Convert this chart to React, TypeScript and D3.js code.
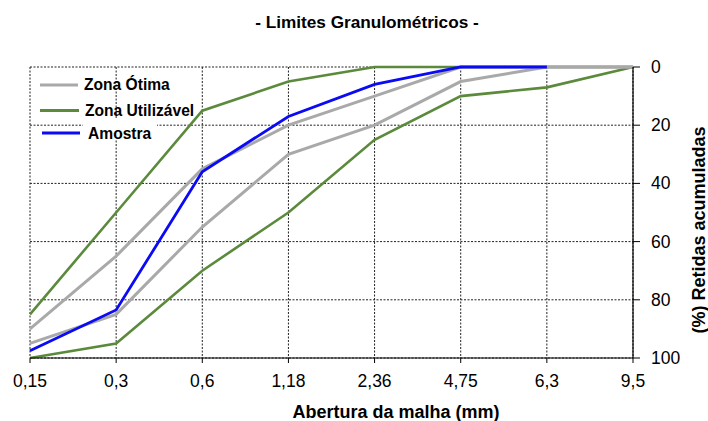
import React from "react";
import * as d3 from "d3";

const categories = ["0,15", "0,3", "0,6", "1,18", "2,36", "4,75", "6,3", "9,5"];
const otimaInferior = [90, 65, 35, 20, 10, 0, 0, 0];
const otimaSuperior = [95, 85, 55, 30, 20, 5, 0, 0];
const utilizavelInferior = [85, 50, 15, 5, 0, 0, 0, 0];
const utilizavelSuperior = [100, 95, 70, 50, 25, 10, 7, 0];
const amostra: (number | null)[] = [97.5, 83.5, 36, 17, 6, 0, 0, null];
const yTicks = [0, 20, 40, 60, 80, 100];

const GREEN = "#5b8a3c";
const GREY = "#a9a9a9";
const BLUE = "#0a0af5";
const FONT = "'Liberation Sans', Arial, sans-serif";

export default function App() {
  const W = 708, H = 421;
  const x = d3.scalePoint<string>().domain(categories).range([30, 633]);
  const y = d3.scaleLinear().domain([0, 100]).range([67, 358]);
  const line = d3
    .line<number | null>()
    .defined((d) => d !== null)
    .x((_, i) => x(categories[i]) as number)
    .y((d) => y(d as number));

  const series = [
    { data: utilizavelInferior, color: GREEN, w: 2.6 },
    { data: utilizavelSuperior, color: GREEN, w: 2.6 },
    { data: otimaInferior, color: GREY, w: 3 },
    { data: otimaSuperior, color: GREY, w: 3 },
    { data: amostra, color: BLUE, w: 2.8 },
  ];

  return (
    <svg width={W} height={H} style={{ position: "absolute", left: 0, top: 0 }} fontFamily={FONT}>
      <rect width={W} height={H} fill="#fff" />
      <text x={367} y={28} textAnchor="middle" fontWeight="bold" fontSize={17.2}>
        - Limites Granulométricos -
      </text>
      {/* grid */}
      {categories.map((c) => (
        <line key={"v" + c} x1={x(c)} x2={x(c)} y1={y(0)} y2={y(100)} stroke="#222" strokeWidth={1} strokeDasharray="2 1.5" />
      ))}
      {yTicks.map((t) => (
        <line key={"h" + t} x1={30} x2={633} y1={y(t)} y2={y(t)} stroke="#222" strokeWidth={1} strokeDasharray="2 1.5" />
      ))}
      {/* series */}
      {series.map((s, i) => (
        <path key={i} d={line(s.data) || ""} fill="none" stroke={s.color} strokeWidth={s.w} strokeLinejoin="miter" />
      ))}
      {/* axes */}
      <line x1={30} x2={633} y1={y(100)} y2={y(100)} stroke="#000" strokeWidth={1.2} />
      {categories.map((c) => (
        <line key={"xt" + c} x1={x(c)} x2={x(c)} y1={y(100)} y2={y(100) + 5} stroke="#000" strokeWidth={1} />
      ))}
      <line x1={633} x2={633} y1={y(0)} y2={y(100)} stroke="#000" strokeWidth={1.2} />
      {yTicks.map((t) => (
        <line key={"yt" + t} x1={633} x2={640} y1={y(t)} y2={y(t)} stroke="#000" strokeWidth={1} />
      ))}
      {categories.map((c) => (
        <text key={"xl" + c} x={x(c)} y={387} textAnchor="middle" fontSize={17.5}>
          {c}
        </text>
      ))}
      {yTicks.map((t) => (
        <text key={"yl" + t} x={651} y={y(t) + 6} textAnchor="start" fontSize={17.5}>
          {t}
        </text>
      ))}
      <text x={396} y={418} textAnchor="middle" fontWeight="bold" fontSize={18}>
        Abertura da malha (mm)
      </text>
      <text transform={`translate(705,230) rotate(-90)`} textAnchor="middle" fontWeight="bold" fontSize={18}>
        (%) Retidas acumuladas
      </text>
      {/* legend */}
      <line x1={40} x2={78} y1={85} y2={85} stroke={GREY} strokeWidth={3} />
      <text x={84} y={90} fontWeight="bold" fontSize={15.6}>Zona Ótima</text>
      <line x1={40} x2={79} y1={110.5} y2={110.5} stroke={GREEN} strokeWidth={2.8} />
      <text x={85} y={116} fontWeight="bold" fontSize={15.6}>Zona Utilizável</text>
      <rect x={83} y={119} width={74} height={20} fill="#fff" />
      <line x1={42} x2={80} y1={133} y2={133} stroke={BLUE} strokeWidth={3} />
      <text x={88} y={138.5} fontWeight="bold" fontSize={15.6}>Amostra</text>
    </svg>
  );
}
